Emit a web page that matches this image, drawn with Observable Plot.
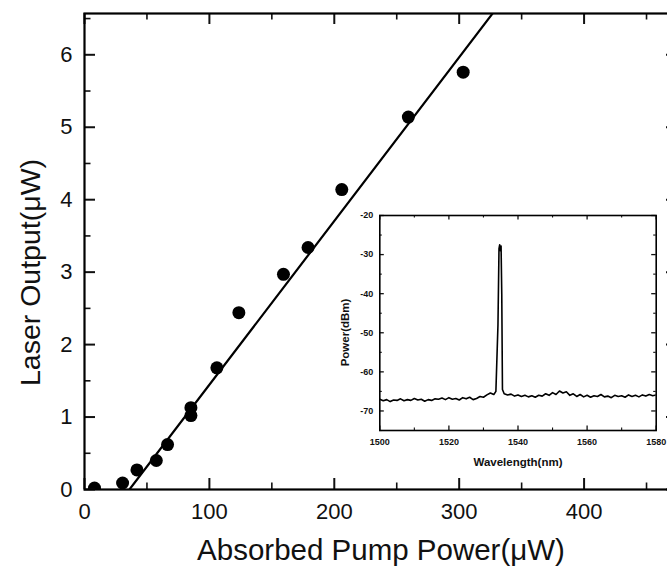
<!DOCTYPE html>
<html><head><meta charset="utf-8">
<script src="https://cdn.jsdelivr.net/npm/d3@7"></script>
<script src="https://cdn.jsdelivr.net/npm/@observablehq/plot@0.6"></script>
<style>
html,body{margin:0;padding:0;background:#fff;}
#wrap{position:relative;width:667px;height:568px;overflow:hidden;font-family:"Liberation Sans",Arial,sans-serif;}
#main{position:absolute;left:0;top:0;width:680px;}
#inset{position:absolute;left:335px;top:200px;width:345px;}
svg{background:transparent !important;max-width:none !important;overflow:visible;}
</style></head><body><div id="wrap"><div id="main"></div><div id="inset"></div></div>
<script>
// Main chart data
const pumpPower   = [8, 30.5, 42, 57.5, 66.5, 85.2, 85.2, 106, 123.6, 159.3, 179, 206, 259.3, 303.2];
const laserOutput = [0.02, 0.09, 0.27, 0.40, 0.62, 1.13, 1.02, 1.68, 2.44, 2.97, 3.34, 4.14, 5.14, 5.76];
const fitPower  = [36, 340];
const fitOutput = [0, 6.87];
const xTicks = [0, 100, 200, 300, 400];
const xMinor = [50, 150, 250, 350, 450];
const yTicks = [0, 1, 2, 3, 4, 5, 6];
const yMinor = [0.5, 1.5, 2.5, 3.5, 4.5, 5.5, 6.5];

// Inset spectrum data
const wavelength = [1500,1501,1502,1503,1504,1505,1506,1507,1508,1509,1510,1511,1512,1513,1514,1515,1516,1517,1518,1519,1520,1521,1522,1523,1524,1525,1526,1527,1528,1529,1530,1531,1532,1533,1533.6,1534.2,1534.5,1534.7,1534.9,1535.1,1535.3,1535.5,1536,1537,1538,1539,1540,1541,1542,1543,1544,1545,1546,1547,1548,1549,1550,1551,1552,1553,1554,1555,1556,1557,1558,1559,1560,1561,1562,1563,1564,1565,1566,1567,1568,1569,1570,1571,1572,1573,1574,1575,1576,1577,1578,1579,1580];
const powerDbm = [-67.0,-67.4,-67.1,-67.6,-67.2,-67.3,-66.9,-67.4,-67.1,-67.3,-66.8,-67.2,-67.0,-67.5,-67.1,-67.3,-66.9,-67.0,-66.7,-67.1,-66.6,-67.0,-66.8,-67.2,-66.6,-66.9,-66.5,-67.1,-66.8,-66.3,-66.5,-65.9,-65.4,-65.8,-65.0,-48,-28.5,-27.5,-29,-27.8,-40,-64.5,-65.6,-65.9,-65.7,-66.2,-65.9,-66.3,-66.0,-66.4,-66.1,-66.5,-66.0,-66.2,-65.6,-66.0,-65.3,-65.8,-64.9,-65.4,-65.1,-66.0,-65.6,-66.3,-65.8,-66.4,-66.0,-66.5,-66.1,-66.3,-65.8,-66.4,-66.2,-66.6,-66.0,-66.3,-66.1,-66.5,-65.9,-66.3,-66.0,-66.4,-65.9,-66.2,-65.8,-66.1,-65.9];
const wlTicks = [1500, 1520, 1540, 1560, 1580];
const wlMinor = [1510, 1530, 1550, 1570];
const dbTicks = [-70, -60, -50, -40, -30, -20];
const dbMinor = [-75, -65, -55, -45, -35, -25];

const FONT = '"Liberation Sans", Arial, sans-serif';
const fmt = d => String(d);
const points = pumpPower.map((x, i) => ({x, y: laserOutput[i]}));
const fit = fitPower.map((x, i) => ({x, y: fitOutput[i]}));

const W = 680, H = 568, mL = 84, mR = 3, mT = 13, mB = 79;
const pW = W - mL - mR, pH = H - mT - mB;

const main = Plot.plot({
  width: W, height: H,
  marginLeft: mL, marginRight: mR, marginTop: mT, marginBottom: mB,
  style: {fontFamily: FONT, background: "transparent", color: "#111", maxWidth: "none"},
  x: {domain: [0, 474.8]},
  y: {domain: [0, 6.57]},
  marks: [
    Plot.line(fit, {x: "x", y: "y", stroke: "#000", strokeWidth: 2.2, clip: true}),
    Plot.dot(points, {x: "x", y: "y", r: 6.5, fill: "#000", stroke: "none", clip: true}),
    Plot.tickX(xTicks, {x: d => d, insetTop: pH - 11, strokeWidth: 2}),
    Plot.tickX(xMinor, {x: d => d, insetTop: pH - 6.5, strokeWidth: 1.6}),
    Plot.tickX(xTicks, {x: d => d, insetBottom: pH - 11, strokeWidth: 2}),
    Plot.tickX(xMinor, {x: d => d, insetBottom: pH - 6.5, strokeWidth: 1.6}),
    Plot.tickY(yTicks, {y: d => d, insetRight: pW - 11, strokeWidth: 2}),
    Plot.tickY(yMinor, {y: d => d, insetRight: pW - 6.5, strokeWidth: 1.6}),
    Plot.tickY(yTicks, {y: d => d, insetLeft: pW - 11, strokeWidth: 2}),
    Plot.tickY(yMinor, {y: d => d, insetLeft: pW - 6.5, strokeWidth: 1.6}),
    Plot.frame({stroke: "#000", strokeWidth: 2.2}),
    Plot.axisX({ticks: xTicks, tickFormat: fmt, tickSize: 0, tickPadding: 14, fontSize: 22, label: null}),
    Plot.axisY({ticks: yTicks, tickFormat: fmt, tickSize: 0, tickPadding: 12, fontSize: 22, label: null}),
    Plot.text(["Absorbed Pump Power(\u03bcW)"], {frameAnchor: "bottom", dy: 61, lineAnchor: "middle", textAnchor: "middle", fontSize: 29.5, fill: "#111"}),
    Plot.text(["Laser Output(\u03bcW)"], {frameAnchor: "left", dx: -54, dy: 21, rotate: -90, lineAnchor: "middle", textAnchor: "middle", fontSize: 28.5, fill: "#111"})
  ]
});
document.getElementById("main").appendChild(main);

const iW = 345, iH = 270, imL = 44.3, imR = 24.3, imT = 15, imB = 40;
const ipW = iW - imL - imR, ipH = iH - imT - imB;
const spectrum = wavelength.map((x, i) => ({x, y: powerDbm[i]}));

const inset = Plot.plot({
  width: iW, height: iH,
  marginLeft: imL, marginRight: imR, marginTop: imT, marginBottom: imB,
  style: {fontFamily: FONT, background: "transparent", color: "#111", maxWidth: "none"},
  x: {domain: [1500, 1580]},
  y: {domain: [-75, -20]},
  marks: [
    Plot.line(spectrum, {x: "x", y: "y", stroke: "#000", strokeWidth: 1.6, clip: true}),
    Plot.tickX(wlTicks, {x: d => d, insetTop: ipH - 4.5, strokeWidth: 1.3}),
    Plot.tickX(wlMinor, {x: d => d, insetTop: ipH - 2.5, strokeWidth: 1.1}),
    Plot.tickX(wlTicks, {x: d => d, insetBottom: ipH - 4.5, strokeWidth: 1.3}),
    Plot.tickX(wlMinor, {x: d => d, insetBottom: ipH - 2.5, strokeWidth: 1.1}),
    Plot.tickY(dbTicks, {y: d => d, insetRight: ipW - 4.5, strokeWidth: 1.3}),
    Plot.tickY(dbMinor, {y: d => d, insetRight: ipW - 2.5, strokeWidth: 1.1}),
    Plot.tickY(dbTicks, {y: d => d, insetLeft: ipW - 4.5, strokeWidth: 1.3}),
    Plot.tickY(dbMinor, {y: d => d, insetLeft: ipW - 2.5, strokeWidth: 1.1}),
    Plot.frame({stroke: "#000", strokeWidth: 1.6}),
    Plot.axisX({ticks: wlTicks, tickFormat: fmt, tickSize: 0, tickPadding: 8, fontSize: 9, fontWeight: "bold", label: null}),
    Plot.axisY({ticks: dbTicks, tickFormat: fmt, tickSize: 0, tickPadding: 6.5, fontSize: 9, fontWeight: "bold", label: null}),
    Plot.text(["Wavelength(nm)"], {frameAnchor: "bottom", dy: 31.7, lineAnchor: "middle", textAnchor: "middle", fontSize: 11.5, fontWeight: "bold", fill: "#111"}),
    Plot.text(["Power(dBm)"], {frameAnchor: "left", dx: -34.3, dy: 9.5, rotate: -90, lineAnchor: "middle", textAnchor: "middle", fontSize: 11.5, fontWeight: "bold", fill: "#111"})
  ]
});
document.getElementById("inset").appendChild(inset);
</script>
</body></html>
